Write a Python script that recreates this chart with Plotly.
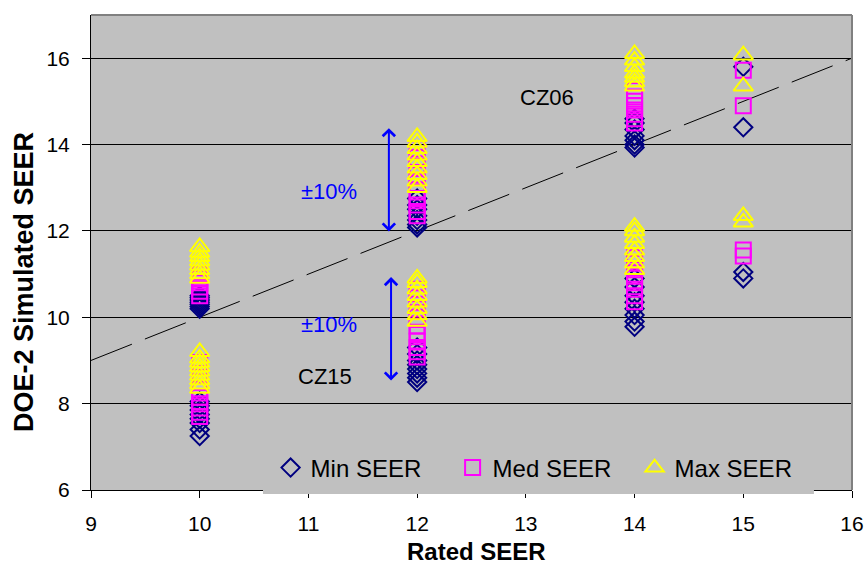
import plotly.graph_objects as go

# Rated SEER (x) and DOE-2 simulated SEER (y) for each series
min_x = [10] * 15 + [12] * 15 + [14] * 15 + [15] * 4
min_y = [10.2, 10.25, 10.3, 10.35, 10.4, 10.45, 10.5,
         7.25, 7.4, 7.55, 7.65, 7.75, 7.85, 7.95, 8.05,
         12.08, 12.15, 12.25, 12.35, 12.5, 12.6, 12.75,
         8.5, 8.6, 8.7, 8.8, 8.9, 9.0, 9.15, 9.3,
         13.93, 14.0, 14.1, 14.2, 14.35, 14.5, 14.6,
         9.78, 9.9, 10.05, 10.2, 10.35, 10.5, 10.7, 10.9,
         15.8, 14.4, 11.05, 10.9]

med_x = [10] * 15 + [12] * 20 + [14] * 16 + [15] * 4
med_y = [10.5, 10.6, 10.7, 10.8, 10.9, 11.0,
         7.7, 7.8, 7.9, 8.0, 8.15, 8.3, 8.5, 8.7, 8.95,
         12.35, 12.45, 12.6, 12.75, 12.9, 13.1, 13.3, 13.5, 13.7, 13.9,
         9.08, 9.2, 9.3, 9.45, 9.6, 9.8, 10.0, 10.2, 10.45, 10.65,
         14.5, 14.6, 14.7, 14.8, 14.9, 15.0, 15.1, 15.25,
         10.36, 10.5, 10.65, 10.8, 10.95, 11.1, 11.25, 11.38,
         15.72, 14.9, 11.56, 11.42]

max_x = [10] * 17 + [12] * 17 + [14] * 15 + [15] * 4
max_y = [10.9, 11.0, 11.1, 11.2, 11.3, 11.4, 11.5, 11.63,
         8.35, 8.45, 8.55, 8.65, 8.75, 8.85, 8.95, 9.05, 9.2,
         13.0, 13.15, 13.3, 13.45, 13.6, 13.75, 13.9, 14.05, 14.18,
         9.9, 10.05, 10.2, 10.35, 10.5, 10.65, 10.8, 10.9,
         15.35, 15.45, 15.55, 15.65, 15.8, 15.95, 16.1,
         11.1, 11.25, 11.4, 11.55, 11.7, 11.85, 12.0, 12.1,
         16.07, 15.35, 12.35, 12.2]

# 1:1 reference line
ref_x = [9, 16]
ref_y = [9, 16]

FONT = "Liberation Sans, Arial, sans-serif"

fig = go.Figure()

fig.add_trace(go.Scatter(
    x=ref_x, y=ref_y, mode="lines", showlegend=False, hoverinfo="skip",
    line=dict(color="black", width=1, dash="44px,14px")))

fig.add_trace(go.Scatter(
    x=min_x, y=min_y, mode="markers", name="Min SEER",
    marker=dict(symbol="diamond-open", size=14, color="#000080",
                line=dict(width=2, color="#000080"))))
fig.add_trace(go.Scatter(
    x=med_x, y=med_y, mode="markers", name="Med SEER",
    marker=dict(symbol="square-open", size=15, color="#FF00FF",
                line=dict(width=2, color="#FF00FF"))))
fig.add_trace(go.Scatter(
    x=max_x, y=max_y, mode="markers", name="Max SEER",
    marker=dict(symbol="triangle-up-open", size=17, color="#FFFF00",
                line=dict(width=2, color="#FFFF00"))))

annotations = [
    dict(x=13.19, y=15.08, text="CZ06", font=dict(size=22, color="black")),
    dict(x=11.15, y=8.62, text="CZ15", font=dict(size=22, color="black")),
    dict(x=11.19, y=12.92, text="±10%", font=dict(size=22, color="#0000FF")),
    dict(x=11.19, y=9.84, text="±10%", font=dict(size=22, color="#0000FF")),
]
for a in annotations:
    a.update(xref="x", yref="y", showarrow=False, font=dict(family=FONT, **a["font"]))

# double-headed range arrows
for xa, y0, y1 in [(11.74, 11.95, 14.38), (11.76, 8.50, 10.93)]:
    annotations.append(dict(
        x=xa, y=y1, ax=xa, ay=y0, xref="x", yref="y", axref="x", ayref="y",
        text="", showarrow=True, arrowside="end+start",
        arrowhead=4, startarrowhead=4, arrowsize=1.2, startarrowsize=1.2,
        arrowwidth=2, arrowcolor="#0000FF", standoff=0, startstandoff=0))

# axis titles
annotations.append(dict(
    x=0.507, y=-0.13, xref="paper", yref="paper", text="<b>Rated SEER</b>",
    showarrow=False, xanchor="center", yanchor="middle",
    font=dict(family=FONT, size=24, color="black")))
annotations.append(dict(
    x=-0.088, y=0.438, xref="paper", yref="paper",
    text="<b>DOE-2 Simulated SEER</b>", textangle=-90,
    showarrow=False, xanchor="center", yanchor="middle",
    font=dict(family=FONT, size=27, color="black")))

shapes = [
    # legend panel
    dict(type="rect", xref="paper", yref="paper", x0=0.226, x1=0.950,
         y0=-0.0084, y1=0.105, fillcolor="#C0C0C0", line=dict(width=0),
         layer="above"),
    # plot frame top / right
    dict(type="line", xref="paper", yref="paper", x0=0, x1=1, y0=1, y1=1,
         line=dict(color="#808080", width=2), layer="above"),
    dict(type="line", xref="paper", yref="paper", x0=1, x1=1, y0=0, y1=1,
         line=dict(color="#808080", width=2), layer="above"),
]

fig.update_layout(
    width=868, height=565,
    margin=dict(l=91, r=16, t=15, b=75, autoexpand=False),
    paper_bgcolor="white", plot_bgcolor="#C0C0C0",
    font=dict(family=FONT, size=21, color="black"),
    showlegend=True,
    legend=dict(orientation="h", x=0.236, xanchor="left", y=0.0463,
                yanchor="middle", bgcolor="rgba(0,0,0,0)",
                font=dict(family=FONT, size=24, color="black"),
                entrywidth=137, entrywidthmode="pixels"),
    annotations=annotations,
    shapes=shapes,
)

fig.update_xaxes(range=[9, 16], tick0=9, dtick=1, showgrid=False,
                 zeroline=False, showline=True, linecolor="black", linewidth=1,
                 ticks="outside", ticklen=7, tickcolor="black",
                 ticklabelstandoff=8, automargin=False,
                 tickfont=dict(family=FONT, size=21, color="black"))
fig.update_yaxes(range=[6, 17], tick0=6, dtick=2, showgrid=True,
                 gridcolor="black", gridwidth=1,
                 zeroline=False, showline=True, linecolor="black", linewidth=1,
                 ticks="outside", ticklen=8, tickcolor="black",
                 ticklabelstandoff=8, automargin=False,
                 tickfont=dict(family=FONT, size=21, color="black"))

fig.write_html("out.html")
